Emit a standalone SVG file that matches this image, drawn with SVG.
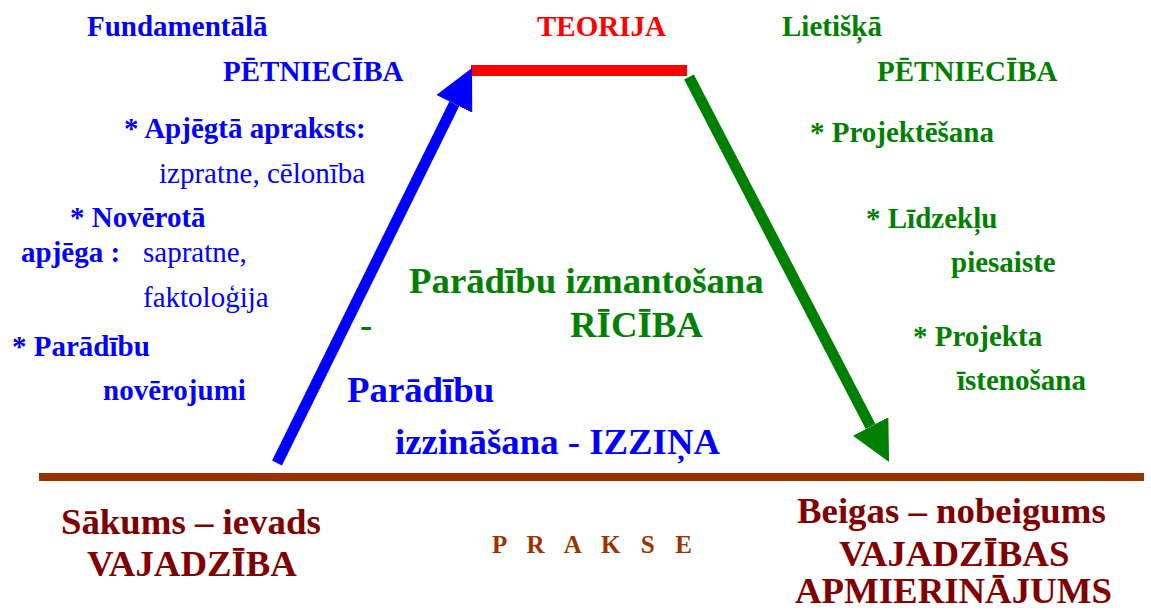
<svg xmlns="http://www.w3.org/2000/svg" width="1151" height="610" viewBox="0 0 1151 610">
  <defs>
    <style>
      text { font-family: "Liberation Serif", "Times New Roman", serif; }
      .b { font-weight: bold; }
      .s { font-size: 29px; }
      .m { font-size: 36.8px; }
      .blue { fill: #0000FF; }
      .green { fill: #008000; }
      .red { fill: #FF0000; }
      .maroon { fill: #800000; }
      .brown { fill: #993300; }
    </style>
    <marker id="ahBlue" viewBox="0 0 40 40" refX="0" refY="20" markerWidth="40" markerHeight="40" markerUnits="userSpaceOnUse" orient="auto">
      <path d="M0,0 L40,20 L0,40 z" fill="#0000FF"/>
    </marker>
    <marker id="ahGreen" viewBox="0 0 40 40" refX="0" refY="20" markerWidth="40" markerHeight="40" markerUnits="userSpaceOnUse" orient="auto">
      <path d="M0,0 L40,20 L0,40 z" fill="#008000"/>
    </marker>
  </defs>
  <rect width="1151" height="610" fill="#FFFFFF"/>

  <g id="connectors">
    <rect id="teorija-bar" x="471" y="65" width="216" height="11" fill="#FF0000"/>
    <rect id="prakse-line" x="39" y="473" width="1105" height="8" fill="#993300"/>
    <line id="arrow-up" x1="277" y1="463" x2="454.3" y2="103.9" stroke="#0000FF" stroke-width="11" marker-end="url(#ahBlue)"/>
    <line id="arrow-down" x1="689" y1="77" x2="870.6" y2="426.5" stroke="#008000" stroke-width="11" marker-end="url(#ahGreen)"/>
  </g>

  <g id="node-teorija">
    <text class="b s red" x="537" y="36">TEORIJA</text>
  </g>

  <g id="node-fundamentala">
    <text class="b s blue" x="87" y="36">Fundamentālā</text>
    <text class="b s blue" x="223" y="81">PĒTNIECĪBA</text>
    <text class="b s blue" x="124" y="138">* Apjēgtā apraksts:</text>
    <text class="s blue" x="159" y="183">izpratne, cēlonība</text>
    <text class="b s blue" x="70" y="227">* Novērotā</text>
    <text class="b s blue" x="21" y="262">apjēga :</text>
    <text class="s blue" x="143" y="262">sapratne,</text>
    <text class="s blue" x="143" y="307">faktoloģija</text>
    <text class="b s blue" x="12" y="356">* Parādību</text>
    <text class="b s blue" x="103" y="400">novērojumi</text>
  </g>

  <g id="node-lietiska">
    <text class="b s green" x="782" y="36">Lietišķā</text>
    <text class="b s green" x="877" y="81">PĒTNIECĪBA</text>
    <text class="b s green" x="810" y="142">* Projektēšana</text>
    <text class="b s green" x="866" y="228">* Līdzekļu</text>
    <text class="b s green" x="951" y="272">piesaiste</text>
    <text class="b s green" x="913" y="346">* Projekta</text>
    <text class="b s green" x="957" y="390">īstenošana</text>
  </g>

  <g id="node-riciba">
    <text class="b m green" x="409" y="293">Parādību izmantošana</text>
    <text class="b m green" x="570" y="337">RĪCĪBA</text>
    <text class="b m green" x="360" y="337">-</text>
  </g>

  <g id="node-izzina">
    <text class="b m blue" x="347" y="402">Parādību</text>
    <text class="b m blue" x="395" y="454">izzināšana - IZZIŅA</text>
  </g>

  <g id="node-sakums">
    <text class="b m maroon" x="61" y="534">Sākums – ievads</text>
    <text class="b m maroon" x="87" y="576">VAJADZĪBA</text>
  </g>

  <g id="node-prakse">
    <text class="b brown" x="492" y="553" font-size="25" textLength="200" lengthAdjust="spacing">P R A K S E</text>
  </g>

  <g id="node-beigas">
    <text class="b m maroon" x="797" y="523">Beigas – nobeigums</text>
    <text class="b m maroon" x="839" y="566">VAJADZĪBAS</text>
    <text class="b m maroon" x="795" y="603">APMIERINĀJUMS</text>
  </g>
</svg>
